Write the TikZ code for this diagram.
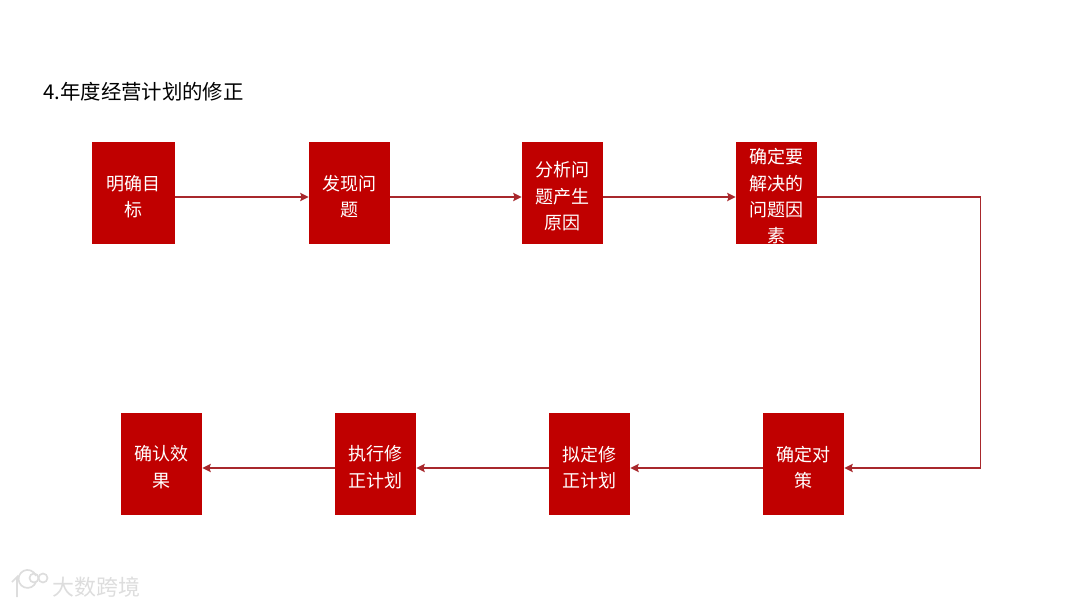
\documentclass[tikz,border=0pt]{standalone}
\usepackage{fontspec}
\setmainfont{Noto Sans CJK SC}
\usepackage{xcolor}
\usetikzlibrary{arrows.meta}
\definecolor{rojo}{HTML}{C00000}
\definecolor{rojolinea}{HTML}{A8282C}
\definecolor{marca}{HTML}{DDDDDD}
\tikzset{
  caja/.style={fill=rojo, minimum height=2.55cm, inner sep=0pt},
  cajatxt/.style={text=white, inner sep=0pt, align=center, font=\fontsize{12.8}{18.6}\selectfont},
  flecha/.style={-{Stealth[length=6pt, width=6pt, inset=1pt]}, line width=0.85pt, rojolinea},
  titulo/.style={anchor=west, inner sep=0pt, font=\fontsize{14.5}{18}\selectfont},
  marcatxt/.style={anchor=west, inner sep=0pt, text=marca, font=\fontsize{15.6}{18}\selectfont},
  marcalin/.style={draw=marca, line width=1.2pt},
}
\begin{document}
\begin{tikzpicture}[x=0.025cm, y=-0.025cm]
  \useasboundingbox (0,0) rectangle (1080,607);
  \node[titulo] (titulo) at (43,92) {4.年度经营计划的修正};
  \foreach \t/\x/\y/\w [count=\i] in {{明确目\\标}/133.5/193/2.08, {发现问\\题}/349.5/193/2.03, {分析问\\题产生\\原因}/562.5/193/2.03, {确定要\\解决的\\问题因\\素}/776.5/193/2.03,
      {确定对\\策}/803.5/464/2.03, {拟定修\\正计划}/589.5/464/2.03, {执行修\\正计划}/375.5/464/2.03, {确认效\\果}/161.5/464/2.03} {
    \node[caja, minimum width=\w cm] (c\i) at (\x,\y) {};
    \node[cajatxt] (t\i) at ([yshift=-0.08cm]c\i.center) {\t};
  }
  \foreach \a/\b in {1/2, 2/3, 3/4} {
    \draw[flecha] ([yshift=-0.1cm]c\a.east) -- ([yshift=-0.1cm]c\b.west);
  }
  \foreach \a/\b in {5/6, 6/7, 7/8} {
    \draw[flecha] ([yshift=-0.1cm]c\a.west) -- ([yshift=-0.1cm]c\b.east);
  }
  \coordinate (codo) at (980.5,330);
  \draw[flecha] ([yshift=-0.1cm]c4.east) -| (codo) |- ([yshift=-0.1cm]c5.east);
  % marca de agua
  \node[marcatxt] (marcatxt) at (52,587) {大数跨境};
  \draw[marcalin] (12,582) -- (17,577) -- (17,597);
  \draw[marcalin] (36,582) arc (20:340:9);
  \draw[marcalin] (34,578) circle (4.5);
  \draw[marcalin] (43,578) circle (4.5);
\end{tikzpicture}
\end{document}
